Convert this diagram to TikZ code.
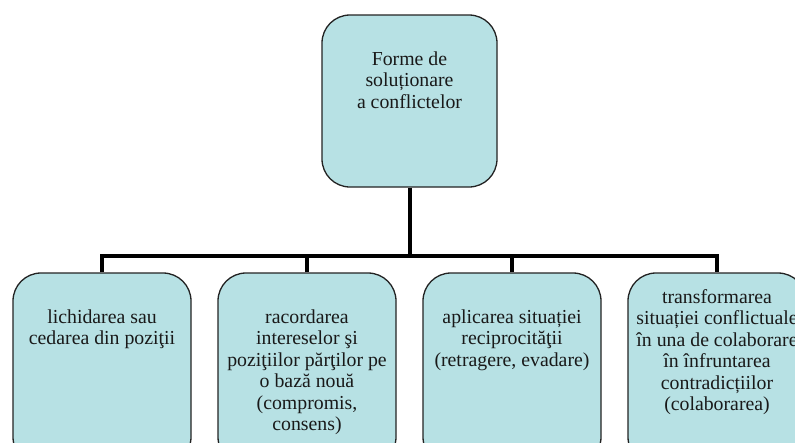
\documentclass[tikz,border=0pt]{standalone}
\usepackage{fontspec}
\setmainfont{Liberation Serif}
\definecolor{boxfill}{RGB}{183,225,228}
\definecolor{boxline}{RGB}{35,35,35}
\begin{document}
\begin{tikzpicture}[x=1pt,y=-1pt,
  boxshape/.style={draw=boxline, line width=1.3pt, fill=boxfill, rounded corners=28pt,
    minimum width=178pt, minimum height=192pt, inner sep=0pt},
  boxtext/.style={anchor=north, inner sep=0pt, align=center,
    font=\fontsize{19.8}{21.5}\selectfont, text=black!90},
  conn/.style={line width=4pt, black}]
\useasboundingbox (0,0) rectangle (795,442);
\clip (0,0) rectangle (795,442);
\coordinate (bus) at (0,256);
% boxes
\node[boxshape, minimum width=175pt, minimum height=172pt] (top) at (409.5,101) {};
\node[boxshape] (b1) at (102,369) {};
\node[boxshape] (b2) at (307,369) {};
\node[boxshape] (b3) at (512,369) {};
\node[boxshape] (b4) at (717,369) {};
% texts
\node[boxtext] (t0) at (409.5,50) {\strut Forme de\\ soluționare\\ a conflictelor};
\node[boxtext] (t1) at (102,308) {\strut lichidarea sau\\ cedarea din poziţii};
\node[boxtext] (t2) at (307,308) {\strut racordarea\\ intereselor ş{}i\\ poziţiilor părţilor pe\\ o bază nouă\\ (compromis,\\ consens)};
\node[boxtext] (t3) at (512,308) {\strut aplicarea situației\\ reciprocităţii\\ (retragere, evadare)};
\node[boxtext] (t4) at (717,288) {\strut transformarea\\ situației conflictuale\\ în una de colaborare\\ în înfruntarea\\ contradicțiilor\\ (colaborarea)};
% connectors
\draw[conn] (top.south) -- (top.south |- bus);
\draw[conn] (b1.north) -- (b1.north |- bus) -- (b4.north |- bus) -- (b4.north);
\draw[conn] (b2.north) -- (b2.north |- bus);
\draw[conn] (b3.north) -- (b3.north |- bus);
\end{tikzpicture}
\end{document}
